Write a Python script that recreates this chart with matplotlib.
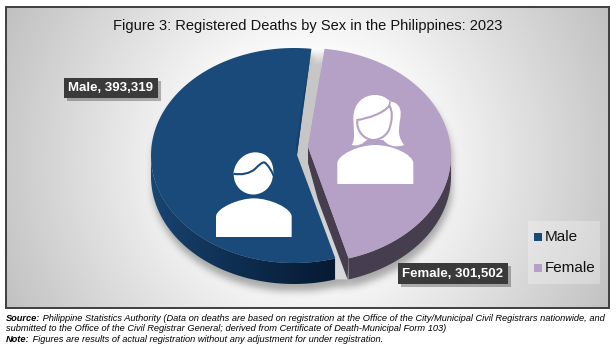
import numpy as np
import matplotlib
matplotlib.use("Agg")
import matplotlib.pyplot as plt
from matplotlib.path import Path
from matplotlib.patches import PathPatch, Polygon, Rectangle, Ellipse

# ---- data ----
categories = ["Male", "Female"]
values = [393319, 301502]
labels = ["Male, 393,319", "Female, 301,502"]
colors = ["#1a4a7a", "#b4a1c5"]
title = "Figure 3: Registered Deaths by Sex in the Philippines: 2023"

W, H = 616, 346
plt.rcParams["font.family"] = ["Liberation Sans", "DejaVu Sans"]
fig = plt.figure(figsize=(W / 100, H / 100), dpi=100)
ax = fig.add_axes([0, 0, 1, 1])
ax.axis("off")


def reset():
    ax.set_xlim(0, W)
    ax.set_ylim(H, 0)


# panel with radial background
L, R, T, B = 6, 609, 7, 308
yy, xx = np.mgrid[T:B, L:R]
rad = np.hypot(xx - 308, yy - 160) / 340
bg = 255 - 63 * np.clip((rad - 0.28) / 0.72, 0, 1)
ax.imshow(np.dstack([bg, bg, bg]) / 255, extent=(L, R, B, T), aspect="auto", zorder=0, interpolation="bilinear")
reset()
ax.add_patch(Rectangle((L, T), R - L, B - T, fill=False, ec="#3f3f3f", lw=1.4, zorder=8))

# pie geometry
RY, DEPTH = 107.5, 21
total = sum(values)
spans = [v / total * 360 for v in values]
start = 7.0  # clockwise from 12 o'clock


def ell(cx, cy, rx, deg):
    a = np.radians(deg)
    return np.column_stack([cx + rx * np.sin(a), cy - RY * np.cos(a)])


male_arc = ell(294, 155.5, 143, np.linspace(start, start - spans[0], 240))
fem_arc = ell(307, 155.5, 144, np.linspace(start, start + spans[1], 200))
male_tip = (297, 155)
fem_tip = (308, 147)

# soft shadow
gap_pts = [male_arc[0] + [0, 14], male_tip, male_arc[-1], male_arc[-1] + [0, DEPTH], fem_arc[-1] + [-1, DEPTH],
           fem_arc[-1], fem_tip, fem_arc[0] + [0, 14]]
m = Path(np.vstack([male_arc, male_arc[::-1] + [0, DEPTH]]))
f = Path(np.vstack([fem_arc, fem_arc[::-1] + [0, DEPTH], [fem_tip]]))
pts = np.column_stack([xx.ravel() - 1, yy.ravel() - 7])
mask = (m.contains_points(pts) | f.contains_points(pts) |
        Path(gap_pts).contains_points(pts) |
        Path(np.vstack([male_arc, [male_tip]])).contains_points(pts) |
        Path(np.vstack([fem_arc, [fem_tip]])).contains_points(pts))
mask = mask.reshape(xx.shape).astype(float)
k = np.ones(7) / 7
for _ in range(3):
    mask = np.apply_along_axis(lambda r: np.convolve(r, k, mode="same"), 0, mask)
    mask = np.apply_along_axis(lambda r: np.convolve(r, k, mode="same"), 1, mask)
shadow = np.zeros(mask.shape + (4,))
shadow[..., :3] = 0.25
shadow[..., 3] = mask * 0.42
ax.imshow(shadow, extent=(L, R, B, T), aspect="auto", zorder=1)
reset()

# gray gap between the slices, fading out at the top
gap = Polygon([male_arc[0], male_tip, male_arc[-1], male_arc[-1] + [0, DEPTH], fem_arc[-1] + [-1, DEPTH],
               fem_arc[-1], fem_tip, fem_arc[0]], fc="none", ec="none", zorder=1.5)
ax.add_patch(gap)
ys = np.linspace(49, 289, 240)
ga = np.zeros((240, 2, 4))
ga[..., :3] = (0.78 + 0.07 * np.clip((ys - 150) / 120, 0, 1))[:, None, None]
ga[..., 3] = np.clip((ys - 49) / 16, 0, 1)[:, None]
im = ax.imshow(ga, extent=(280, 360, 289, 49), aspect="auto", zorder=1.5)
im.set_clip_path(gap)
reset()

# male side wall, darkening to the right
lo = male_arc[male_arc[:, 1] > 155.5]
wall = Polygon(np.vstack([lo, lo[::-1] + [0, DEPTH]]), fc="none", ec="none", zorder=2)
ax.add_patch(wall)
gx = np.linspace(0, 1, 200) ** 0.75
c0 = np.array([0x1a, 0x48, 0x76]) / 255
c1 = np.array([0x06, 0x1a, 0x33]) / 255
grad = (c0[None, :] + (c1 - c0)[None, :] * gx[:, None])[None, :, :]
im = ax.imshow(grad, extent=(150, 335, 290, 150), aspect="auto", zorder=2, interpolation="bilinear")
im.set_clip_path(wall)
reset()

# female side wall
fem_lo = fem_arc[fem_arc[:, 1] > 155.5]
ax.add_patch(Polygon(np.vstack([fem_lo, fem_lo[::-1] + [0, DEPTH]]), fc="#463e4f", ec="none", zorder=2))
ax.add_patch(Polygon([fem_tip, fem_arc[-1], fem_arc[-1] + [-1, DEPTH], (318, 200), (308, 163)],
                     fc="#463e4f", ec="none", zorder=2))

# top faces
ax.add_patch(Polygon(np.vstack([male_arc, [male_tip]]), fc=colors[0], ec="none", zorder=3))
ax.add_patch(Polygon(np.vstack([fem_arc, [fem_tip]]), fc=colors[1], ec="none", zorder=3))
ax.add_patch(Polygon([male_arc[0], (303, 108), male_tip, (296, 146), (303, 98), (310, 58)],
                     fc="#143e6b", ec="none", zorder=3.5))

# icons
MV, C4, CP, LN = Path.MOVETO, Path.CURVE4, Path.CLOSEPOLY, Path.LINETO


def bez(ox, oy, start_pt, curves, close=True, **kw):
    """Outline in zoomed (3x) pixels, made of cubic segments."""
    v = [start_pt]
    c = [MV]
    for seg in curves:
        v.extend(seg)
        c.extend([C4] * 3 if len(seg) == 3 else [LN])
    if close:
        v.append(start_pt)
        c.append(CP)
    v = [(ox + a / 3, oy + b / 3) for a, b in v]
    ax.add_patch(PathPatch(Path(v, c), **kw))


white = dict(fc="white", ec="none", zorder=4)
# male body, head, hair
bez(205, 145, (33, 276), [[(33, 215)], [(33, 190), (100, 160), (147, 160)], [(195, 160), (260, 190), (260, 215)], [(260, 276)]], **white)
ax.add_patch(Ellipse((253.3, 175), 39, 39, fc="white", ec="none", zorder=4))
bez(205, 145, (85, 87), [[(90, 42), (125, 22), (150, 22)], [(188, 22), (208, 50), (205, 90)], [(145, 110)]], **white)
bez(205, 145, (85, 86), [[(110, 91), (135, 85), (150, 72)], [(160, 62), (170, 52), (178, 52)], [(190, 60), (198, 75), (206, 92)]],
    close=False, fc="none", ec=colors[0], lw=1.5, zorder=5)

# female hair, body, face
bez(330, 85, (65, 180), [[(78, 160), (70, 130), (70, 100)], [(70, 55), (100, 30), (135, 30)], [(155, 30), (170, 38), (180, 50)],
                         [(195, 50), (212, 60), (212, 85)], [(212, 115), (195, 145), (222, 180)], [(195, 190), (170, 180), (160, 165)],
                         [(110, 165)], [(100, 175), (85, 185), (65, 180)]], **white)
bez(330, 85, (22, 297), [[(22, 235)], [(22, 210), (85, 180), (135, 180)], [(190, 180), (250, 210), (250, 235)], [(250, 297)]], **white)
bez(330, 85, (82, 105), [[(115, 100), (160, 85), (178, 62)], [(190, 80), (185, 110), (180, 125)], [(175, 150), (150, 165), (130, 165)],
                         [(105, 165), (78, 140), (82, 105)]], fc="white", ec=colors[1], lw=1.5, zorder=5)
bez(330, 85, (178, 62), [[(180, 50)]], close=False, fc="none", ec=colors[1], lw=1.2, zorder=5)


# data labels
def data_label(x0, x1, y0, y1, txt):
    ax.add_patch(Rectangle((x0 + 2.5, y0 + 2.5), x1 - x0, y1 - y0, fc="#000000", alpha=0.28, ec="none", zorder=5.5))
    ax.add_patch(Rectangle((x0, y0), x1 - x0, y1 - y0, fc="#3a3a3a", ec="none", zorder=6))
    ax.text((x0 + x1) / 2, (y0 + y1) / 2 + 0.3, txt, color="white", fontweight="bold", fontsize=9.5,
            ha="center", va="center", zorder=7)


data_label(64, 158, 78, 98, labels[0])
data_label(398, 508, 263, 284, labels[1])

# legend
ax.add_patch(Rectangle((528, 221), 72, 63, fc="white", alpha=0.28, ec="none", zorder=5))
for cat, col, my in zip(categories, colors, [237, 268]):
    ax.add_patch(Rectangle((534, my - 4), 8, 8, fc=col, ec="none", zorder=6))
    ax.text(545, my + 0.3, cat, fontsize=11, color="#111111", va="center", ha="left", zorder=7)

# title
ax.text(307.5, 26, title, fontsize=10.5, ha="center", va="center", color="#111111", zorder=7)

# source notes
renderer = fig.canvas.get_renderer()


def runs(y, parts):
    x = 6
    for txt, weight in parts:
        t = ax.text(x, y, txt, fontsize=6.65, style="italic", fontweight=weight, va="baseline", ha="left", color="black", zorder=7)
        x = ax.transData.inverted().transform(t.get_window_extent(renderer))[1, 0]


runs(321, [("Source:", "bold"), (" Philippine Statistics Authority (Data on deaths are based on registration at the Office of the City/Municipal Civil Registrars nationwide, and", "normal")])
runs(331, [("submitted to the Office of the Civil Registrar General; derived from Certificate of Death-Municipal Form 103)", "normal")])
runs(342, [("Note:", "bold"), (" Figures are results of actual registration without any adjustment for under registration.", "normal")])

fig.savefig("out.png", dpi=100)
